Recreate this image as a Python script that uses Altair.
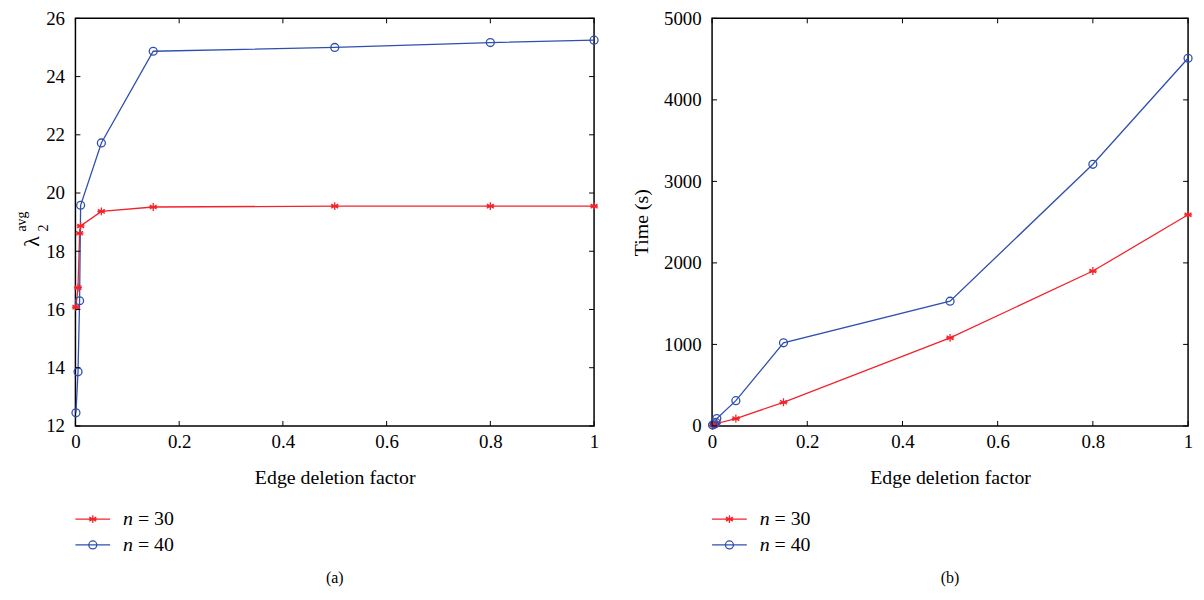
import altair as alt
import pandas as pd

# ---------------- data ----------------
edge_factor = [0.001, 0.005, 0.008, 0.01, 0.05, 0.15, 0.5, 0.8, 1.0]
series = ["n = 30", "n = 40"]
lambda_n30 = [16.08, 16.75, 18.62, 18.87, 19.37, 19.52, 19.55, 19.55, 19.55]
lambda_n40 = [12.45, 13.86, 16.30, 19.58, 21.72, 24.87, 25.00, 25.17, 25.25]
time_n30 = [5, 10, 20, 30, 90, 290, 1080, 1900, 2590]
time_n40 = [10, 25, 45, 90, 310, 1020, 1530, 3210, 4510]
x_ticks = [0, 0.2, 0.4, 0.6, 0.8, 1.0]
lambda_ticks = [12, 14, 16, 18, 20, 22, 24, 26]
time_ticks = [0, 1000, 2000, 3000, 4000, 5000]
legend_values = ["30", "40"]
captions = ["(a)", "(b)"]

colors = ["#f2232b", "#2f4fae"]
ASTERISK = "M0,-1L0,1M-0.87,-0.5L0.87,0.5M-0.87,0.5L0.87,-0.5M-1,0L1,0"
FONT = "Liberation Serif"


def long_df(a, b):
    rows = []
    for s, vals in zip(series, [a, b]):
        for x, v in zip(edge_factor, vals):
            rows.append({"x": x, "series": s, "v": v})
    return pd.DataFrame(rows)


def panel(df, ydomain, yticks, yfmt, ytitle, width, height, caption, lambda_title=False):
    xs = alt.Scale(domain=[0, 1], nice=False, zero=False)
    ys = alt.Scale(domain=ydomain, nice=False, zero=False)
    cs = alt.Scale(domain=series, range=colors)
    ss = alt.Scale(domain=series, range=[ASTERISK, "circle"])

    xaxis = alt.Axis(values=x_ticks, format=".1~f", title="Edge deletion factor",
                     ticks=False, tickSize=0, domain=False, labelPadding=7,
                     labelFlush=False, titlePadding=16, titleFontSize=20)
    yaxis_kw = dict(values=yticks, format=yfmt, ticks=False, tickSize=0, domain=False,
                    labelPadding=11, labelFlush=False, titleFontSize=20, titlePadding=12)
    if ytitle:
        yaxis = alt.Axis(title=ytitle, **yaxis_kw)
    else:
        yaxis = alt.Axis(title=None, **yaxis_kw)

    X = lambda: alt.X("x:Q", scale=xs, axis=xaxis)
    Y = lambda: alt.Y("v:Q", scale=ys, axis=yaxis)

    base = alt.Chart(df)
    line = base.mark_line(strokeWidth=1.3).encode(
        x=X(), y=Y(),
        color=alt.Color("series:N", scale=cs, legend=None),
        order=alt.Order("x:Q"),
    )
    pts = base.mark_point(filled=False, size=64, strokeWidth=1.3, opacity=1).encode(
        x=X(), y=Y(),
        color=alt.Color("series:N", scale=cs, legend=None),
        shape=alt.Shape("series:N", scale=ss, legend=None),
    )

    xt = alt.Chart(pd.DataFrame({"x": x_ticks}))
    yt = alt.Chart(pd.DataFrame({"v": yticks}))
    tick_layers = [
        xt.mark_rule(color="black", strokeWidth=1).encode(
            x=X(), y=alt.value(height), y2=alt.value(height - 5)),
        xt.mark_rule(color="black", strokeWidth=1).encode(
            x=X(), y=alt.value(0), y2=alt.value(5)),
        yt.mark_rule(color="black", strokeWidth=1).encode(
            y=Y(), x=alt.value(0), x2=alt.value(5)),
        yt.mark_rule(color="black", strokeWidth=1).encode(
            y=Y(), x=alt.value(width), x2=alt.value(width - 5)),
    ]

    # legend (below the plot)
    leg = []
    for i, (s, val) in enumerate(zip(series, legend_values)):
        ly = height + 94 + i * 26
        ldf = pd.DataFrame({"series": [s]})
        lc = alt.Chart(ldf)
        leg.append(lc.mark_rule(strokeWidth=1.3).encode(
            x=alt.value(0), x2=alt.value(35), y=alt.value(ly),
            color=alt.Color("series:N", scale=cs, legend=None)))
        leg.append(lc.mark_point(filled=False, size=64, strokeWidth=1.3, opacity=1).encode(
            x=alt.value(17.5), y=alt.value(ly),
            color=alt.Color("series:N", scale=cs, legend=None),
            shape=alt.Shape("series:N", scale=ss, legend=None)))
        leg.append(lc.mark_text(text="n", font=FONT, fontSize=20, fontStyle="italic",
                                align="left", baseline="middle", color="black").encode(
            x=alt.value(48), y=alt.value(ly)))
        leg.append(lc.mark_text(text="= " + val, font=FONT, fontSize=20,
                                align="left", baseline="middle", color="black").encode(
            x=alt.value(63), y=alt.value(ly)))

    cap = alt.Chart(pd.DataFrame({"c": [caption]})).mark_text(
        font=FONT, fontSize=16, align="center", baseline="middle", color="black").encode(
        text="c:N", x=alt.value(width / 2), y=alt.value(height + 153))

    extra = []
    if lambda_title:
        tdf = alt.Chart(pd.DataFrame({"a": [0]}))
        extra.append(tdf.mark_text(text="λ", font=FONT, fontSize=22, angle=270,
                                   align="center", baseline="middle", color="black").encode(
            x=alt.value(-44), y=alt.value(225)))
        extra.append(tdf.mark_text(text="2", font=FONT, fontSize=14, angle=270,
                                   align="left", baseline="middle", color="black").encode(
            x=alt.value(-32), y=alt.value(215)))
        extra.append(tdf.mark_text(text="avg", font=FONT, fontSize=14, angle=270,
                                   align="left", baseline="middle", color="black").encode(
            x=alt.value(-54), y=alt.value(215)))

    return alt.layer(line, pts, *tick_layers, *leg, cap, *extra).properties(
        width=width, height=height)


left = panel(long_df(lambda_n30, lambda_n40), [12, 26], lambda_ticks, "d", None,
             523, 411, captions[0], lambda_title=True)
right = panel(long_df(time_n30, time_n40), [0, 5000], time_ticks, "d", "Time (s)",
              480, 411, captions[1])

chart = alt.hconcat(left, right, spacing=29).properties(
    padding={"left": 6, "top": -2, "right": 0, "bottom": 0}
).configure_view(stroke="black", strokeWidth=1.5).configure_axis(
    grid=False, labelFont=FONT, labelFontSize=19, labelColor="black",
    titleFont=FONT, titleFontWeight="normal", titleColor="black"
).configure_concat(spacing=29)

chart.save("out.html", embed_options={"renderer": "svg", "actions": False})
